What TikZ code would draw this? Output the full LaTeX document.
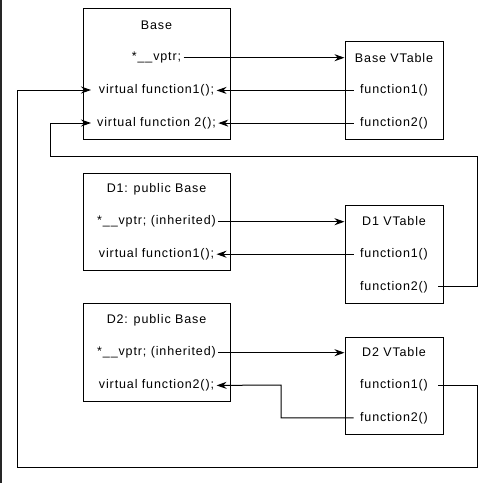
\documentclass[tikz,border=0pt]{standalone}
\usepackage{fontspec}
\setmainfont{Liberation Sans}[LetterSpace=7]
\usepackage{tikz}
\usetikzlibrary{positioning, arrows.meta}
\tikzset{
x=1pt, y=-1pt, % one unit is one pixel of the picture, y runs down
every picture/.style={line width=1pt, font=\fontsize{12.5}{14}\selectfont},
>={Stealth[length=10pt, width=7pt]}, % small filled heads
node distance=32.7pt, % spacing between the rows of a box
classbox/.style={draw, minimum width=147pt, inner sep=0pt}, % sets the class boxes
tablebox/.style={draw, minimum width=98pt, inner sep=0pt}, % sets the vtable boxes
member/.style={inner sep=2pt, on grid}, % one row of text
slot/.style={member, inner xsep=6pt}, % one row of a vtable
}

\begin{document}
\begin{tikzpicture}
            \useasboundingbox (0,0) rectangle (492,483);
            \draw[line width=2pt, black!85] (1,0) -- (1,483);

            % boxes
            \node[classbox, minimum height=131pt] (base) at (156.5,73.5) {};
            \node[tablebox, minimum height=98pt] (bvt) at (394,90) {};
            \node[classbox, minimum height=97pt] (d1) at (156.5,221.5) {};
            \node[tablebox, minimum height=98pt] (d1vt) at (394,254) {};
            \node[classbox, minimum height=98pt] (d2) at (156.5,352) {};
            \node[tablebox, minimum height=97pt] (d2vt) at (394,385.5) {};

            % Base
            \node[member] (btitle) at (156.5,25) {Base};
            \node[member, below=of btitle] (bvptr) {*\_\_vptr;};
            \node[member, below=of bvptr] (bf1) {virtual function1();};
            \node[member, below=of bf1] (bf2) {virtual function 2();};
            \node[member] (bvtitle) at (394,57.7) {Base VTable};
            \node[slot, below=of bvtitle] (bvtf1) {function1()};
            \node[slot, below=of bvtf1] (bvtf2) {function2()};

            % D1
            \node[member] (d1title) at (156.5,189) {D1: public Base};
            \node[member, below=of d1title] (d1vptr) {*\_\_vptr; (inherited)};
            \node[member, below=of d1vptr] (d1f1) {virtual function1();};
            \node[member] (d1vtitle) at (394,221.5) {D1 VTable};
            \node[slot, below=of d1vtitle] (d1vtf1) {function1()};
            \node[slot, below=of d1vtf1] (d1vtf2) {function2()};

            % D2
            \node[member] (d2title) at (156.5,320) {D2: public Base};
            \node[member, below=of d2title] (d2vptr) {*\_\_vptr; (inherited)};
            \node[member, below=of d2vptr] (d2f2) {virtual function2();};
            \node[member] (d2vtitle) at (394,352.5) {D2 VTable};
            \node[slot, below=of d2vtitle] (d2vtf1) {function1()};
            \node[slot, below=of d2vtf1] (d2vtf2) {function2()};

            % the two ways back into Base
            \coordinate (in1) at (91,90);
            \coordinate (in2) at (91,123);

            \draw[->]
                (bvptr.east) -- (bvptr.east -| bvt.west);
            \draw[->] (bvtf1.west) -- (bf1.east);
            \draw[->] (bvtf2.west) -- (bf2.east);
            \draw[->]
                (d1vptr.east) -- (d1vptr.east -| d1vt.west);
            \draw[->] (d1vtf1.west) -- (d1vtf1.west -| d1f1.east);
            \draw[->]
                ([xshift=4pt]d1vtf2.east) -| (477,156) -| (50,123) -- (in2);
            \draw[->]
                (d2vptr.east) -- (d2vptr.east -| d2vt.west);
            \draw[->] (d2vtf2.west) -| (281,385) -- (d2f2.east);
            \draw[->]
                ([xshift=4pt]d2vtf1.east) -| (477,467) -| (17,90) -- (in1);
        \end{tikzpicture}
\end{document}
